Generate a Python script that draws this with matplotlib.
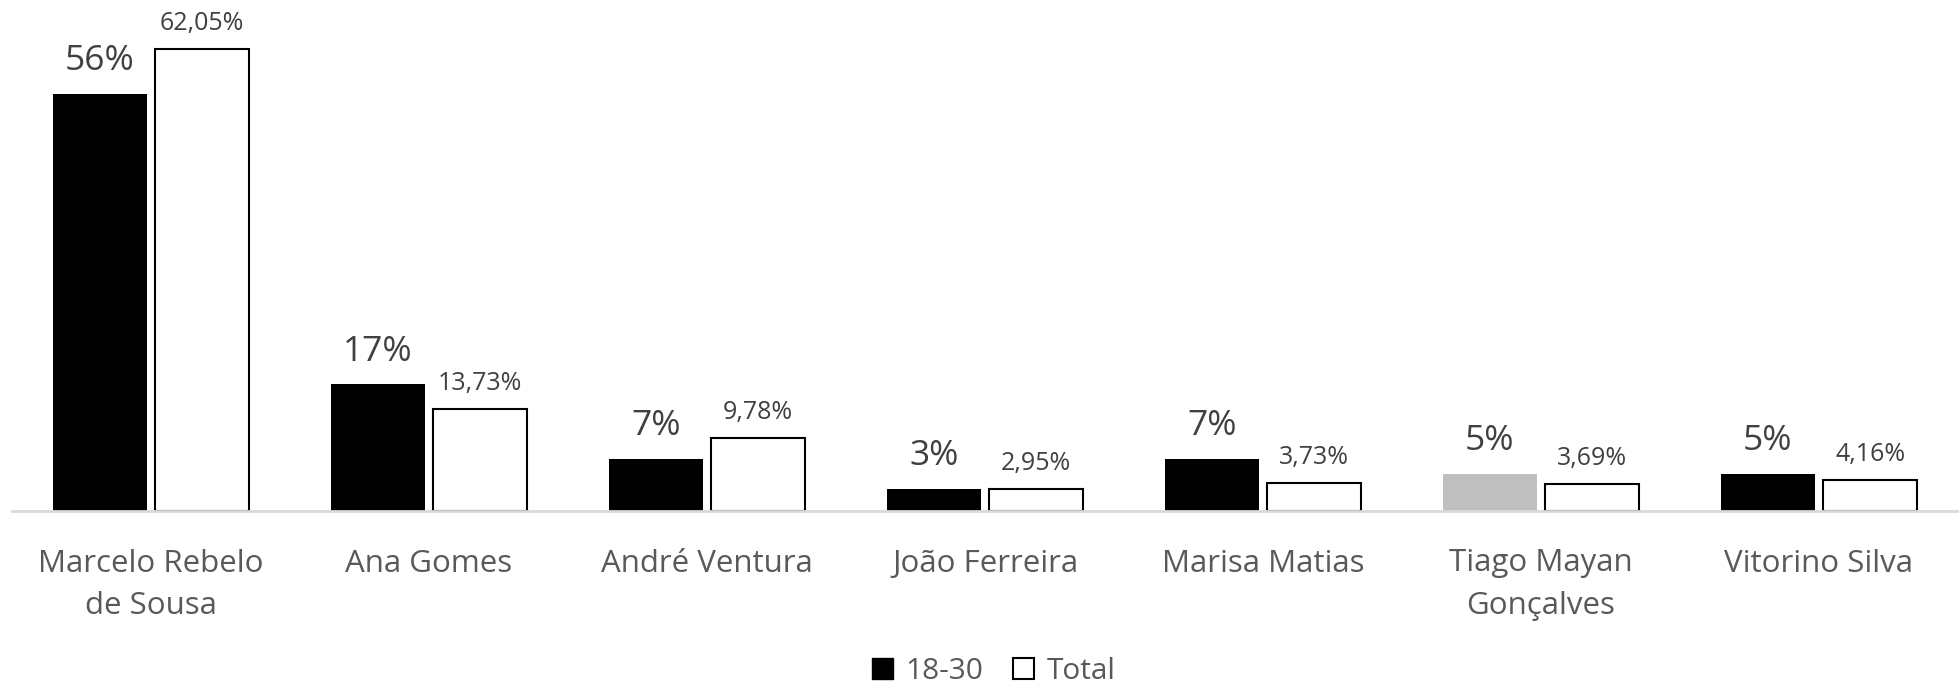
import numpy as np
from matplotlib import pyplot as plt
from matplotlib.patches import Patch

plt.rcParams['font.family'] = ['Open Sans', 'DejaVu Sans']

candidates = ['Marcelo Rebelo\nde Sousa', 'Ana Gomes', 'André Ventura', 'João Ferreira',
              'Marisa Matias', 'Tiago Mayan\nGonçalves', 'Vitorino Silva']
young = [56, 17, 7, 3, 7, 5, 5]
young_labels = ['56%', '17%', '7%', '3%', '7%', '5%', '5%']
total = [62.05, 13.73, 9.78, 2.95, 3.73, 3.69, 4.16]
total_labels = ['62,05%', '13,73%', '9,78%', '2,95%', '3,73%', '3,69%', '4,16%']
young_colors = ['black', 'black', 'black', 'black', 'black', '#BFBFBF', 'black']

fig = plt.figure(figsize=(19.59, 6.87), dpi=100)
ax = fig.add_axes([12 / 1959, 176 / 687, 1946 / 1959, 484 / 687])

x = np.arange(len(candidates))
w = 0.338
off = 0.184

ax.bar(x - off, young, w, color=young_colors, edgecolor='none', label='18-30')
ax.bar(x + off, total, w, color='white', edgecolor='black', linewidth=1.5, label='Total')

# rótulos das barras
for xi, v, lab in zip(x, young, young_labels):
    ax.annotate(lab, (xi - off, v), xytext=(0, 17), textcoords='offset points',
                ha='center', va='baseline', fontsize=25.5, color='#404040')
for xi, v, lab in zip(x, total, total_labels):
    ax.annotate(lab, (xi + off, v), xytext=(0, 13.5), textcoords='offset points',
                ha='center', va='baseline', fontsize=18, color='#404040')

ax.set_xlim(-0.5, len(candidates) - 0.5)
ax.set_ylim(0, 65)
ax.set_yticks([])
ax.set_xticks(x)
ax.set_xticklabels(candidates, fontsize=22.5, color='#595959', linespacing=1.55)
ax.tick_params(axis='x', length=0, pad=27)
for s in ['top', 'right', 'left']:
    ax.spines[s].set_visible(False)
ax.spines['bottom'].set_color('#D9D9D9')
ax.spines['bottom'].set_linewidth(2)

handles = [Patch(facecolor='black', edgecolor='black'),
           Patch(facecolor='white', edgecolor='black', linewidth=1.5)]
fig.legend(handles, ['18-30', 'Total'], loc='lower center', bbox_to_anchor=(0.5074, 0.002),
           ncol=2, frameon=False, fontsize=21.5, labelcolor='#595959',
           borderpad=0, borderaxespad=0,
           handlelength=0.7, handleheight=0.7, handletextpad=0.43, columnspacing=1.0)

plt.savefig('out.png', dpi=100)
